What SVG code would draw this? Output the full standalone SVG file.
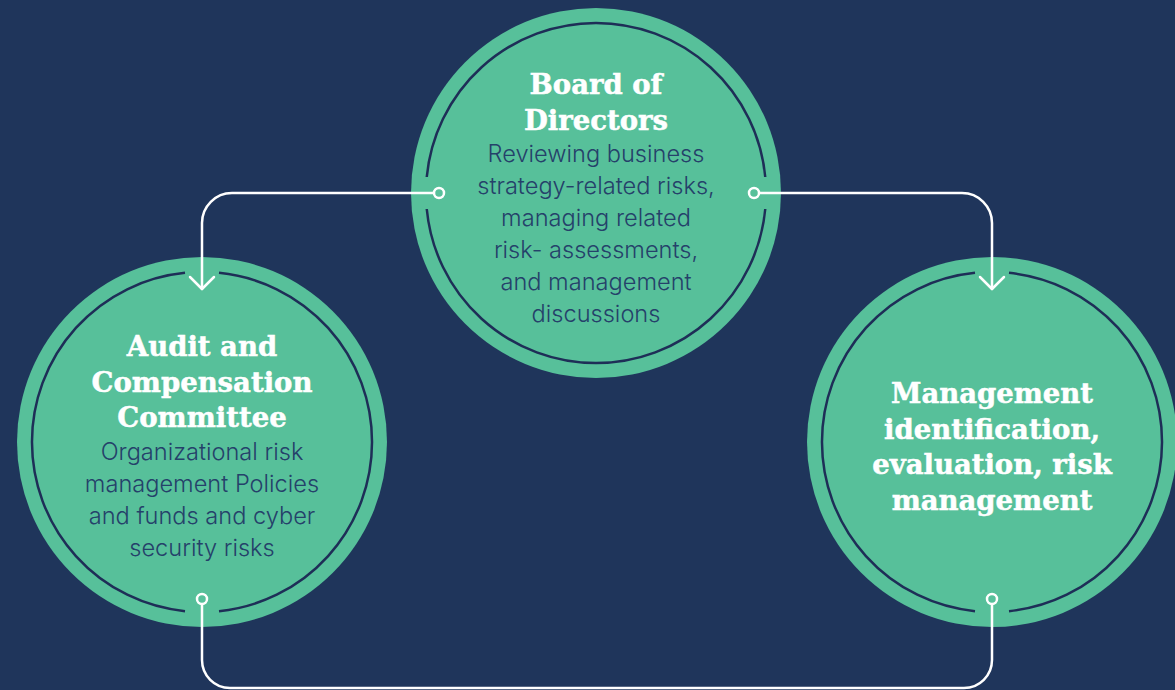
<svg xmlns="http://www.w3.org/2000/svg" width="1175" height="690" viewBox="0 0 1175 690">
  <style>
    .disc { fill: #57C09A; }
    .ring { fill: none; stroke: #1E2E57; stroke-width: 2.5; }
    .wire { fill: none; stroke: #FFFFFF; stroke-width: 2.5; stroke-linecap: round; stroke-linejoin: round; }
    .port { fill: #57C09A; stroke: #FFFFFF; stroke-width: 2.5; }
    .title { font-family: "DejaVu Serif", "Liberation Serif", serif; font-weight: bold; font-size: 27.5px; fill: #FFFFFF; stroke: #FFFFFF; stroke-width: 0.5; text-anchor: middle; }
    .body { font-family: Inter, "Liberation Sans", sans-serif; font-weight: 300; font-size: 23.6px; fill: #25416A; text-anchor: middle; }
  </style>
  <rect width="1175" height="690" fill="#1F355B"/>

  <g id="board">
    <circle class="disc" cx="596" cy="193" r="185"/>
    <path class="ring" d="M 426.75 177 A 170 170 0 0 1 765.25 177"/>
    <path class="ring" d="M 765.25 209 A 170 170 0 0 1 426.75 209"/>
    <text class="title" x="596" y="94">Board of</text>
    <text class="title" x="596" y="130">Directors</text>
    <text class="body" x="596" y="162">Reviewing business</text>
    <text class="body" x="596" y="194">strategy-related risks,</text>
    <text class="body" x="596" y="226">managing related</text>
    <text class="body" x="596" y="258">risk- assessments,</text>
    <text class="body" x="596" y="290">and management</text>
    <text class="body" x="596" y="322">discussions</text>
  </g>

  <g id="audit">
    <circle class="disc" cx="202" cy="442" r="185"/>
    <path class="ring" d="M 219 272.85 A 170 170 0 0 1 219 611.15"/>
    <path class="ring" d="M 185 611.15 A 170 170 0 0 1 185 272.85"/>
    <text class="title" x="202" y="356">Audit and</text>
    <text class="title" x="202" y="392">Compensation</text>
    <text class="title" x="202" y="427">Committee</text>
    <text class="body" x="202" y="460">Organizational risk</text>
    <text class="body" x="202" y="492">management Policies</text>
    <text class="body" x="202" y="524">and funds and cyber</text>
    <text class="body" x="202" y="556">security risks</text>
  </g>

  <g id="management">
    <circle class="disc" cx="992" cy="442" r="185"/>
    <path class="ring" d="M 1009 272.85 A 170 170 0 0 1 1009 611.15"/>
    <path class="ring" d="M 975 611.15 A 170 170 0 0 1 975 272.85"/>
    <text class="title" x="992" y="403">Management</text>
    <text class="title" x="992" y="439">identification,</text>
    <text class="title" x="992" y="474">evaluation, risk</text>
    <text class="title" x="992" y="510">management</text>
  </g>

  <g id="connectors">
    <path class="wire" d="M 434 193 H 232 A 30 30 0 0 0 202 223 V 289"/>
    <polyline class="wire" points="190,277 202,289 214,277"/>
    <path class="wire" d="M 759 193 H 962 A 30 30 0 0 1 992 223 V 289"/>
    <polyline class="wire" points="980,277 992,289 1004,277"/>
    <path class="wire" d="M 202 604 V 660 A 28 28 0 0 0 230 688 H 964 A 28 28 0 0 0 992 660 V 604"/>
    <circle class="port" cx="439" cy="193" r="5"/>
    <circle class="port" cx="754" cy="193" r="5"/>
    <circle class="port" cx="202" cy="599" r="5"/>
    <circle class="port" cx="992" cy="599" r="5"/>
  </g>
</svg>
